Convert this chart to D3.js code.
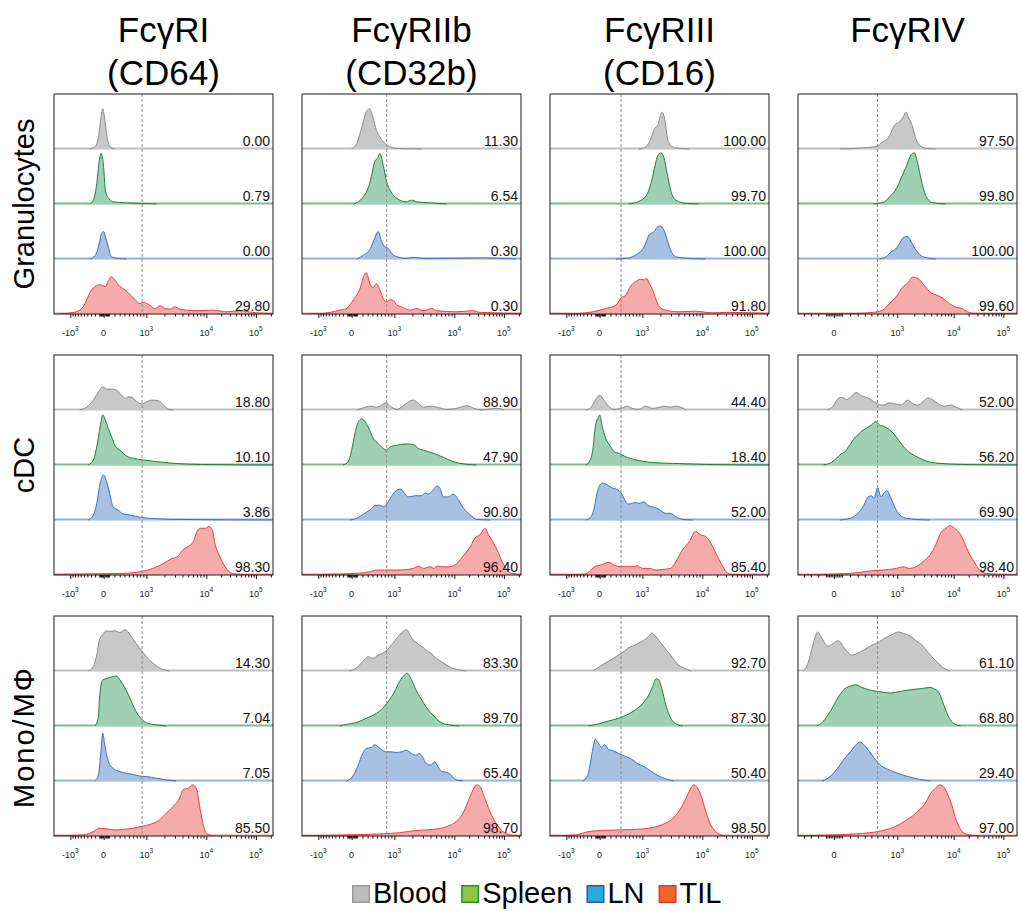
<!DOCTYPE html>
<html>
<head>
<meta charset="utf-8">
<script src="https://cdn.jsdelivr.net/npm/d3@7"></script>
<style>
  body { margin: 0; background: #fff; }
  svg { display: block; }
  text { font-family: "Liberation Sans", Arial, Helvetica, sans-serif; }
</style>
</head>
<body>
<div id="svgContainer"></div>
<script>
const cellTypes = ["Granulocytes", "cDC", "Mono/MΦ"];
const receptorNames = ["FcγRI", "FcγRIIb", "FcγRIII", "FcγRIV"];
const receptorCDs = ["(CD64)", "(CD32b)", "(CD16)", ""];
const tissues = ["Blood", "Spleen", "LN", "TIL"];

// % positive cells, [receptor][tissue]
const pctGran = [[0.00, 0.79, 0.00, 29.80], [11.30, 6.54, 0.30, 0.30], [100.00, 99.70, 100.00, 91.80], [97.50, 99.80, 100.00, 99.60]];
const pctCDC = [[18.80, 10.10, 3.86, 98.30], [88.90, 47.90, 90.80, 96.40], [44.40, 18.40, 52.00, 85.40], [52.00, 56.20, 69.90, 98.40]];
const pctMono = [[14.30, 7.04, 7.05, 85.50], [83.30, 89.70, 65.40, 98.70], [92.70, 87.30, 50.40, 98.50], [61.10, 68.80, 29.40, 97.00]];

// biex axis: display channel (0-256) of each decade label
const tickBase = ["-10", "0", "10", "10", "10"];
const tickSup = ["3", "", "3", "4", "5"];
const tickChannels = [[19, 58, 108, 178, 236], [19, 58, 108, 178, 236], [19, 58, 108, 178, 236], [-30, 42, 116, 182, 240]];
const gateChannels = [103, 99, 83, 93];

// histograms: [channel, height] per tissue (Blood, Spleen, LN, TIL)
const granCD64 = [
  [[42,0],[48,4],[52,22],[55,58],[57,73],[59,58],[62,22],[65,5],[71,0]],
  [[42,0],[46,7],[50,37],[53,79],[55,92],[58,67],[60,25],[64,10],[69,4],[85,2],[104,1],[120,0]],
  [[42,0],[48,6],[52,22],[55,44],[58,50],[60,41],[64,19],[67,4],[75,1],[85,0]],
  [[7,0],[26,4],[34,13],[44,44],[48,50],[54,53],[60,50],[64,62],[67,68],[71,62],[77,50],[83,44],[89,35],[95,26],[100,19],[104,21],[112,16],[118,10],[124,15],[130,10],[136,9],[141,13],[147,9],[155,7],[167,6],[186,7],[202,4],[217,6],[237,2],[255,1]]
];
const granCD32 = [
  [[58,0],[64,10],[70,40],[76,70],[79,73],[83,58],[87,34],[91,22],[97,10],[103,4],[111,1],[140,0]],
  [[60,0],[70,10],[78,32],[82,56],[85,77],[89,85],[91,92],[95,70],[99,40],[103,25],[111,10],[122,4],[128,7],[134,4],[150,2],[169,0]],
  [[64,0],[72,7],[80,19],[85,38],[89,50],[93,32],[97,22],[101,19],[105,10],[111,4],[122,1],[130,3],[142,1],[212,2],[250,0]],
  [[9,0],[25,1],[44,7],[52,10],[60,26],[68,47],[72,68],[75,75],[80,53],[83,48],[87,55],[91,44],[95,28],[99,22],[103,26],[107,24],[111,16],[118,12],[126,7],[134,10],[142,6],[152,10],[157,6],[181,4],[200,6],[208,3],[256,1]]
];
const granCD16 = [
  [[104,0],[112,4],[118,19],[122,37],[126,43],[128,55],[131,67],[135,46],[137,22],[141,7],[147,2],[163,0]],
  [[92,0],[104,5],[112,14],[118,37],[122,64],[126,88],[130,93],[133,85],[137,55],[141,25],[147,7],[159,1],[174,0]],
  [[77,0],[92,2],[102,9],[110,22],[116,44],[122,50],[126,59],[129,60],[133,53],[137,35],[141,16],[147,4],[163,1],[182,0]],
  [[0,0],[34,1],[50,4],[65,10],[77,16],[83,29],[89,35],[94,50],[100,59],[106,63],[110,62],[113,65],[116,56],[120,44],[124,26],[128,13],[135,7],[151,4],[170,5],[190,2],[206,3],[256,1]]
];
const granIV = [
  [[49,0],[76,2],[92,5],[99,13],[105,19],[109,31],[113,44],[119,50],[123,58],[126,67],[130,55],[134,40],[137,22],[142,7],[150,1],[161,0]],
  [[88,0],[101,4],[107,13],[115,28],[121,49],[127,70],[132,89],[136,93],[140,73],[144,44],[150,13],[158,2],[173,0]],
  [[95,0],[103,4],[109,13],[114,18],[119,29],[123,39],[128,41],[132,32],[138,16],[144,6],[154,1],[161,0]],
  [[0,0],[68,1],[88,3],[99,7],[107,19],[115,32],[123,50],[128,56],[134,67],[140,65],[144,59],[150,47],[156,38],[161,35],[169,29],[177,19],[185,12],[192,10],[198,4],[208,1],[256,1]]
];
const cdcCD64 = [
  [[30,0],[38,5],[46,18],[52,33],[57,42],[62,38],[68,38],[73,36],[79,27],[83,21],[87,24],[91,23],[97,15],[103,11],[108,15],[116,18],[122,17],[128,9],[134,1],[140,0]],
  [[40,0],[46,9],[50,33],[54,70],[57,91],[60,82],[64,64],[68,49],[71,36],[77,27],[85,16],[93,12],[105,9],[120,6],[140,3],[171,1],[255,0]],
  [[40,0],[46,9],[50,30],[54,67],[58,82],[62,67],[66,42],[69,24],[75,18],[81,11],[89,9],[101,5],[124,2],[147,1],[255,0]],
  [[0,1],[42,2],[81,3],[101,6],[116,12],[128,21],[138,30],[144,33],[151,46],[157,52],[163,61],[167,79],[171,85],[177,85],[181,88],[185,82],[188,58],[194,33],[200,15],[208,3],[218,1],[256,0]]
];
const cdcCD32 = [
  [[64,0],[70,3],[80,7],[87,5],[91,7],[98,13],[103,7],[111,1],[117,6],[121,11],[130,18],[136,12],[142,5],[150,7],[158,5],[169,1],[181,3],[189,7],[193,8],[201,3],[210,0],[220,2],[228,3],[236,0]],
  [[48,0],[54,6],[58,27],[62,58],[66,79],[70,84],[72,82],[78,67],[83,49],[89,39],[95,30],[99,27],[103,33],[111,36],[119,38],[126,38],[132,36],[136,30],[142,27],[154,21],[165,14],[177,6],[189,2],[204,0]],
  [[56,0],[64,3],[72,11],[80,19],[85,26],[91,27],[95,24],[99,29],[103,39],[109,52],[115,56],[121,46],[124,42],[132,44],[140,44],[144,49],[148,47],[154,56],[158,62],[162,55],[165,42],[171,42],[177,47],[183,36],[189,21],[197,9],[204,1],[220,0]],
  [[0,0],[25,1],[64,3],[80,6],[87,9],[99,9],[111,9],[122,10],[130,12],[136,16],[142,12],[150,15],[154,12],[158,16],[165,15],[173,15],[181,21],[189,36],[197,52],[202,67],[208,73],[214,85],[218,73],[224,58],[228,46],[234,24],[240,9],[245,3],[256,1]]
];
const cdcCD16 = [
  [[42,0],[48,5],[53,18],[58,27],[63,18],[69,6],[75,1],[83,3],[90,7],[96,3],[104,1],[112,7],[120,3],[128,5],[133,7],[141,5],[147,7],[153,5],[159,0]],
  [[42,0],[46,6],[50,27],[53,70],[57,88],[58,91],[61,70],[65,49],[71,33],[75,24],[81,21],[87,16],[94,12],[104,8],[124,4],[143,3],[182,1],[256,0]],
  [[42,0],[48,6],[52,24],[55,49],[61,67],[67,64],[73,58],[79,55],[83,49],[87,38],[91,29],[96,30],[100,32],[104,30],[110,33],[114,27],[122,23],[128,19],[135,12],[141,12],[147,6],[155,1],[167,0]],
  [[0,0],[38,1],[46,6],[52,15],[59,18],[69,23],[75,18],[83,15],[91,16],[98,15],[102,17],[108,12],[116,12],[124,9],[131,10],[141,12],[147,24],[155,46],[163,61],[170,79],[176,73],[182,70],[188,58],[194,39],[200,21],[206,6],[213,1],[256,0]]
];
const cdcIV = [
  [[35,0],[41,7],[47,21],[51,23],[57,19],[63,26],[68,32],[74,26],[80,23],[86,18],[92,12],[99,9],[107,13],[114,11],[121,9],[128,18],[134,12],[140,9],[146,15],[152,22],[158,18],[163,12],[171,7],[179,9],[185,5],[192,0]],
  [[30,0],[37,3],[45,12],[51,21],[55,24],[59,33],[63,42],[66,49],[70,55],[74,61],[80,67],[86,73],[91,79],[95,73],[101,70],[107,64],[113,55],[119,42],[125,30],[132,21],[140,14],[150,7],[165,3],[192,1],[256,0]],
  [[49,0],[61,3],[70,12],[76,24],[82,42],[86,44],[89,39],[93,59],[97,42],[101,50],[104,53],[108,42],[113,24],[119,9],[127,3],[138,1],[154,0]],
  [[0,0],[49,2],[68,4],[88,8],[107,10],[115,12],[123,15],[130,12],[138,15],[146,24],[154,36],[161,55],[167,77],[173,85],[177,90],[183,85],[189,76],[194,61],[200,39],[206,24],[212,9],[220,3],[235,1],[256,0]]
];
const monoCD64 = [
  [[40,0],[46,8],[50,29],[53,56],[57,66],[61,73],[65,72],[71,73],[77,70],[83,75],[89,66],[92,59],[96,50],[102,38],[108,26],[116,14],[124,5],[135,0]],
  [[48,0],[52,17],[53,47],[57,84],[61,86],[69,90],[73,91],[77,84],[83,69],[89,50],[94,32],[100,17],[108,6],[120,2],[131,0]],
  [[48,0],[52,11],[55,56],[57,87],[59,69],[63,38],[69,23],[77,17],[85,14],[92,12],[100,9],[108,8],[120,5],[131,2],[143,0]],
  [[0,0],[34,2],[46,8],[53,14],[61,13],[71,11],[81,12],[92,14],[104,18],[116,23],[124,30],[131,41],[139,53],[147,69],[151,84],[157,87],[162,93],[167,84],[170,56],[174,23],[178,5],[186,0]]
];
const monoCD32 = [
  [[55,0],[63,5],[71,17],[77,26],[83,23],[89,29],[94,32],[100,39],[106,50],[112,62],[118,72],[122,75],[126,66],[130,56],[133,53],[137,47],[141,44],[145,38],[151,32],[157,23],[165,15],[172,8],[184,2],[192,0]],
  [[44,0],[52,3],[63,6],[75,14],[87,23],[96,35],[102,47],[108,62],[114,81],[120,93],[123,96],[128,84],[133,66],[139,50],[145,35],[153,20],[161,8],[172,2],[184,0]],
  [[52,0],[59,8],[65,26],[71,50],[75,59],[81,61],[85,66],[89,62],[94,56],[98,53],[104,53],[110,52],[116,53],[122,56],[128,50],[133,47],[137,50],[141,44],[145,32],[151,29],[155,35],[159,26],[163,17],[169,16],[174,11],[180,2],[188,0]],
  [[0,0],[55,2],[94,4],[114,6],[133,10],[153,12],[169,17],[180,26],[188,41],[194,62],[200,84],[204,93],[208,90],[213,72],[219,47],[227,23],[235,8],[243,2],[254,0]]
];
const monoCD16 = [
  [[50,0],[54,4],[62,12],[75,24],[85,34],[92,42],[100,48],[110,56],[116,64],[119,69],[123,64],[127,56],[134,42],[141,29],[148,14],[157,5],[165,0]],
  [[45,0],[57,4],[68,9],[80,14],[92,22],[102,32],[110,44],[116,58],[120,72],[124,86],[127,84],[131,66],[135,40],[140,18],[146,5],[155,0]],
  [[38,0],[44,10],[48,40],[51,66],[53,76],[56,70],[60,62],[64,66],[68,58],[74,55],[80,50],[88,45],[95,40],[102,32],[110,26],[118,18],[126,10],[135,4],[145,0]],
  [[0,0],[30,2],[45,8],[60,10],[80,11],[100,12],[115,14],[130,20],[142,30],[152,48],[160,72],[165,88],[168,93],[172,88],[177,72],[182,45],[188,20],[195,6],[205,0]]
];
const monoIV = [
  [[6,0],[12,15],[17,45],[21,66],[23,71],[27,62],[35,45],[41,50],[47,55],[55,40],[63,29],[72,34],[84,45],[95,53],[102,60],[110,66],[117,71],[124,68],[131,64],[138,55],[145,47],[152,34],[160,20],[168,8],[177,0]],
  [[22,0],[28,6],[35,20],[42,38],[48,55],[55,68],[62,73],[67,75],[75,70],[85,65],[97,62],[108,60],[120,63],[132,66],[144,68],[154,70],[160,67],[165,60],[170,40],[175,20],[181,6],[190,0]],
  [[28,0],[35,5],[42,15],[49,29],[55,42],[61,53],[67,64],[72,71],[78,64],[84,53],[90,40],[96,29],[104,22],[113,16],[122,11],[131,7],[142,3],[155,0]],
  [[0,0],[40,2],[70,4],[96,9],[112,16],[125,27],[135,38],[143,49],[149,60],[154,75],[160,86],[166,93],[171,88],[175,75],[180,55],[184,33],[188,18],[192,8],[200,2],[210,0]]
];

const histRows = [
  [granCD64, granCD32, granCD16, granIV],
  [cdcCD64, cdcCD32, cdcCD16, cdcIV],
  [monoCD64, monoCD32, monoCD16, monoIV]
];
const pctRows = [pctGran, pctCDC, pctMono];

const fillColors = ["#c8c8c8", "#a0d0b3", "#a8c0e2", "#f6abab"];
const strokeColors = ["#8a8a8a", "#1e7d3b", "#3a6ec4", "#ef3b3b"];
const legendFill = ["#bdbdbd", "#8dc63f", "#29abe2", "#f26522"];
const legendStroke = ["#9a9a9a", "#2d8a3e", "#3d55a6", "#d8384a"];

const width = 1021, height = 911;
const panelW = 219, bandH = 55;
const panelLeft = c => 54 + c * 248;
const panelTop = r => 94 + r * 261;

const svg = d3.select("#svgContainer").append("svg")
    .attr("width", width)
    .attr("height", height);

const x = d3.scaleLinear().domain([0, 256]).range([0, panelW]);
const y = d3.scaleLinear().domain([0, 100]).range([bandH, 0]);

const area = d3.area()
    .x(d => x(d[0]))
    .y0(bandH)
    .y1(d => y(d[1]))
    .curve(d3.curveMonotoneX);
const line = d3.line()
    .x(d => x(d[0]))
    .y(d => y(d[1]))
    .curve(d3.curveMonotoneX);
const fmt = d3.format(".2f");

// minor ticks of the biex axis, spread between the labelled decades
function minorTicks(t) {
    const out = [];
    const segs = [[t[2], t[3]], [t[3], t[4]], [t[4], t[4] + (t[4] - t[3])]];
    segs.forEach(([a, b]) => {
        d3.range(2, 10).forEach(m => out.push(a + (b - a) * Math.log10(m)));
    });
    const w = 600, s = Math.asinh(1000 / w);
    [20, 40, 60, 80, 100, 200, 300, 400, 500, 600, 700, 800, 900].forEach(v => {
        const f = Math.asinh(v / w) / s;
        out.push(t[1] + (t[2] - t[1]) * f);
        out.push(t[1] - (t[1] - t[0]) * f);
    });
    return out.filter(c => c >= 1 && c <= 255);
}

svg.append("defs").append("clipPath").attr("id", "panelClip")
    .append("rect").attr("width", panelW).attr("height", bandH * 4);

histRows.forEach((row, r) => {
    row.forEach((hists, c) => {
        const g = svg.append("g")
            .attr("transform", `translate(${panelLeft(c)},${panelTop(r)})`);
        const inner = g.append("g").attr("clip-path", "url(#panelClip)");

        hists.forEach((pts, i) => {
            const band = inner.append("g").attr("transform", `translate(0,${i * bandH})`);
            band.append("line")
                .attr("x1", 0).attr("x2", panelW)
                .attr("y1", bandH - 0.5).attr("y2", bandH - 0.5)
                .attr("stroke", strokeColors[i])
                .attr("stroke-opacity", 0.55)
                .attr("stroke-width", 2);
            band.append("path")
                .datum(pts)
                .attr("d", area)
                .attr("fill", fillColors[i]);
            band.append("path")
                .datum(pts)
                .attr("d", line)
                .attr("fill", "none")
                .attr("stroke", strokeColors[i])
                .attr("stroke-width", 1);
        });

        // gate
        g.append("line")
            .attr("x1", x(gateChannels[c])).attr("x2", x(gateChannels[c]))
            .attr("y1", 0).attr("y2", bandH * 4)
            .attr("stroke", "#8c8c8c")
            .attr("stroke-width", 1)
            .attr("stroke-dasharray", "3,2");

        // percent labels
        g.selectAll("text.pct")
            .data(pctRows[r][c])
            .join("text")
            .attr("class", "pct")
            .attr("x", panelW - 3)
            .attr("y", (d, i) => (i + 1) * bandH - 3)
            .attr("text-anchor", "end")
            .attr("font-size", 14)
            .attr("fill", "#111")
            .text(d => fmt(d));

        g.append("rect")
            .attr("width", panelW)
            .attr("height", bandH * 4)
            .attr("fill", "none")
            .attr("stroke", "#1a1a1a")
            .attr("stroke-width", 1);

        // axis
        const t = tickChannels[c];
        const axisG = g.append("g").attr("transform", `translate(0,${bandH * 4})`);
        axisG.append("g")
            .call(d3.axisBottom(x).tickValues(minorTicks(t)).tickSize(2.5).tickFormat(""))
            .call(a => a.select(".domain").remove());
        axisG.append("g")
            .call(d3.axisBottom(x).tickValues(t.filter(v => v >= 0)).tickSize(4).tickFormat(""))
            .call(a => a.select(".domain").remove());
        axisG.selectAll(".tick line").attr("stroke", "#111");

        const lbl = axisG.selectAll("text.tl")
            .data(t.map((v, k) => ({v, k})).filter(d => d.v >= 0))
            .join("text")
            .attr("class", "tl")
            .attr("x", d => x(d.v))
            .attr("y", 22)
            .attr("text-anchor", "middle")
            .attr("font-size", 9)
            .attr("fill", "#222");
        lbl.append("tspan").text(d => tickBase[d.k]);
        lbl.append("tspan")
            .attr("dy", -5)
            .attr("font-size", 6.5)
            .text(d => tickSup[d.k]);
    });
});

// column titles
receptorNames.forEach((name, c) => {
    const cx = panelLeft(c) + panelW / 2;
    svg.append("text")
        .attr("x", cx).attr("y", 42)
        .attr("text-anchor", "middle")
        .attr("font-size", 35)
        .text(name);
    if (receptorCDs[c]) {
        svg.append("text")
            .attr("x", cx).attr("y", 85)
            .attr("text-anchor", "middle")
            .attr("font-size", 35)
            .text(receptorCDs[c]);
    }
});

// row titles
const rowLabelShift = [0, 0, 11];
cellTypes.forEach((name, r) => {
    svg.append("text")
        .attr("transform", `translate(34,${panelTop(r) + bandH * 2 + rowLabelShift[r]}) rotate(-90)`)
        .attr("text-anchor", "middle")
        .attr("font-size", 29)
        .attr("letter-spacing", r === 2 ? 2 : 0)
        .text(name);
});

// legend
let lx = 352;
const legend = svg.append("g");
tissues.forEach((name, i) => {
    legend.append("rect")
        .attr("x", lx + 0.75).attr("y", 885.75)
        .attr("width", 16.5).attr("height", 16.5)
        .attr("fill", legendFill[i])
        .attr("stroke", legendStroke[i])
        .attr("stroke-width", 1.5);
    const t = legend.append("text")
        .attr("x", lx + 21).attr("y", 903)
        .attr("font-size", 29)
        .text(name);
    lx += 21 + t.node().getComputedTextLength() + 14;
});
</script>
</body>
</html>
